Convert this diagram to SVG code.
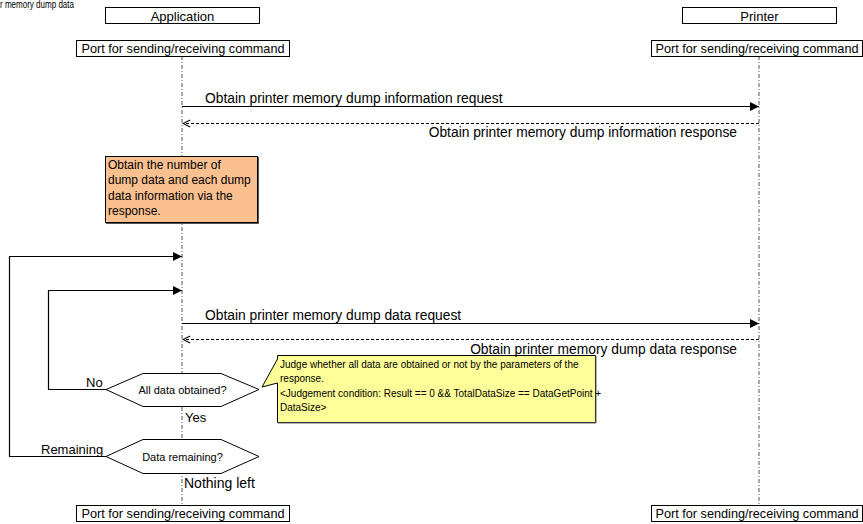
<svg xmlns="http://www.w3.org/2000/svg" width="863" height="524" viewBox="0 0 863 524">
  <defs>
    <marker id="solid" viewBox="0 0 10 10" refX="10" refY="5" markerWidth="9" markerHeight="9" markerUnits="userSpaceOnUse" orient="auto">
      <path d="M0,0 L10,5 L0,10 Z" fill="#000"/>
    </marker>
    <marker id="open" viewBox="0 0 10 10" refX="9" refY="5" markerWidth="9" markerHeight="9" markerUnits="userSpaceOnUse" orient="auto">
      <path d="M1,1 L9,5 L1,9" fill="none" stroke="#000" stroke-width="1.2"/>
    </marker>
  </defs>
  <style>
    text { font-family: "Liberation Sans", Arial, sans-serif; fill: #000; }
    .box { fill: #fff; stroke: #000; stroke-width: 1; }
    .hdr { font-size: 13px; }
    .port { font-size: 12.7px; }
    .msgt { font-size: 13.8px; }
    .lbl { font-size: 13px; }
    .note { font-size: 12px; }
    .judge { font-size: 10px; }
    .dec { font-size: 11px; }
    .life { stroke: #555; stroke-width: 1; stroke-dasharray: 4 2 1 2; fill: none; }
    .msg { stroke: #000; stroke-width: 1.2; fill: none; }
    .reply { stroke: #000; stroke-width: 1; stroke-dasharray: 3 2; fill: none; }
    .loop { stroke: #000; stroke-width: 1.2; fill: none; }
    .hex { fill: #fff; stroke: #000; stroke-width: 1; }
  </style>

  <!-- heading -->
  <text x="0" y="8" style="font-size:10px" textLength="74" lengthAdjust="spacingAndGlyphs">r memory dump data</text>

  <!-- lifelines -->
  <g id="lifelines">
    <line class="life" x1="182" y1="56" x2="182" y2="505"/>
    <line class="life" x1="759" y1="56" x2="759" y2="505"/>
  </g>

  <!-- participants -->
  <g id="application">
    <rect class="box" x="105.5" y="7.5" width="154" height="16"/>
    <text class="hdr" x="182.5" y="20.5" text-anchor="middle">Application</text>
  </g>
  <g id="printer">
    <rect class="box" x="682.5" y="7.5" width="154" height="16"/>
    <text class="hdr" x="759.5" y="20.5" text-anchor="middle">Printer</text>
  </g>
  <g id="app-port-top">
    <rect class="box" x="76.5" y="40.5" width="213" height="16"/>
    <text class="port" x="183" y="53" text-anchor="middle">Port for sending/receiving command</text>
  </g>
  <g id="printer-port-top">
    <rect class="box" x="651.5" y="40.5" width="211" height="16"/>
    <text class="port" x="757" y="53" text-anchor="middle">Port for sending/receiving command</text>
  </g>
  <g id="app-port-bottom">
    <rect class="box" x="76.5" y="505.5" width="213" height="16"/>
    <text class="port" x="183" y="518" text-anchor="middle">Port for sending/receiving command</text>
  </g>
  <g id="printer-port-bottom">
    <rect class="box" x="651.5" y="505.5" width="211" height="16"/>
    <text class="port" x="757" y="518" text-anchor="middle">Port for sending/receiving command</text>
  </g>

  <!-- notes -->
  <g id="note-dump-info">
    <rect x="106" y="157" width="153" height="67" fill="#555"/>
    <rect x="105.5" y="156.5" width="152" height="66" fill="#FAC090" stroke="#000" stroke-width="1"/>
    <text class="note" x="108" y="168.5">Obtain the number of</text>
    <text class="note" x="108" y="184">dump data and each dump</text>
    <text class="note" x="108" y="199.5">data information via the</text>
    <text class="note" x="108" y="215">response.</text>
  </g>
  <g id="note-judge">
    <path d="M277.5,355.5 H595.5 V422.5 H277.5 V383 L262,387 L277.5,359 Z" fill="#FFFF99" stroke="#000" stroke-width="1"/>
    <line x1="278" y1="423" x2="596" y2="423" stroke="#666"/>
    <line x1="596" y1="356" x2="596" y2="423" stroke="#666"/>
    <text class="judge" x="280" y="367.5">Judge whether all data are obtained or not by the parameters of the</text>
    <text class="judge" x="280" y="382">response.</text>
    <text class="judge" x="280" y="396.5">&lt;Judgement condition: Result == 0 &amp;&amp; TotalDataSize ==  DataGetPoint +</text>
    <text class="judge" x="280" y="411">DataSize&gt;</text>
  </g>

  <!-- decisions -->
  <g id="decision-all-obtained">
    <polygon class="hex" points="106,389.5 143,373.5 221,373.5 259,389.5 221,406.5 143,406.5"/>
    <text class="dec" x="182.5" y="393.5" text-anchor="middle">All data obtained?</text>
  </g>
  <g id="decision-remaining">
    <polygon class="hex" points="106,456.5 143,439.5 221,439.5 259,456.5 221,473.5 143,473.5"/>
    <text class="dec" x="182.5" y="460.5" text-anchor="middle">Data remaining?</text>
  </g>

  <!-- connectors -->
  <g id="connectors">
    <line class="msg" x1="182" y1="106.5" x2="759" y2="106.5" marker-end="url(#solid)"/>
    <text class="msgt" x="205" y="103">Obtain printer memory dump information request</text>
    <line class="reply" x1="759" y1="123.5" x2="183" y2="123.5" marker-end="url(#open)"/>
    <text class="msgt" x="737" y="136.5" text-anchor="end">Obtain printer memory dump information response</text>

    <line class="msg" x1="182" y1="323.5" x2="759" y2="323.5" marker-end="url(#solid)"/>
    <text class="msgt" x="205" y="320">Obtain printer memory dump data request</text>
    <line class="reply" x1="759" y1="339.5" x2="183" y2="339.5" marker-end="url(#open)"/>
    <text class="msgt" x="737" y="353.5" text-anchor="end">Obtain printer memory dump data response</text>

    <polyline class="loop" points="106,389.5 48.5,389.5 48.5,290.5 182,290.5" marker-end="url(#solid)"/>
    <text class="lbl" x="86" y="387">No</text>
    <polyline class="loop" points="106,456.5 9.5,456.5 9.5,256.5 182,256.5" marker-end="url(#solid)"/>
    <text class="lbl" x="41" y="454">Remaining</text>

    <text class="lbl" x="185" y="422">Yes</text>
    <text class="lbl" x="184" y="488" style="font-size:14px">Nothing left</text>
  </g>
</svg>
